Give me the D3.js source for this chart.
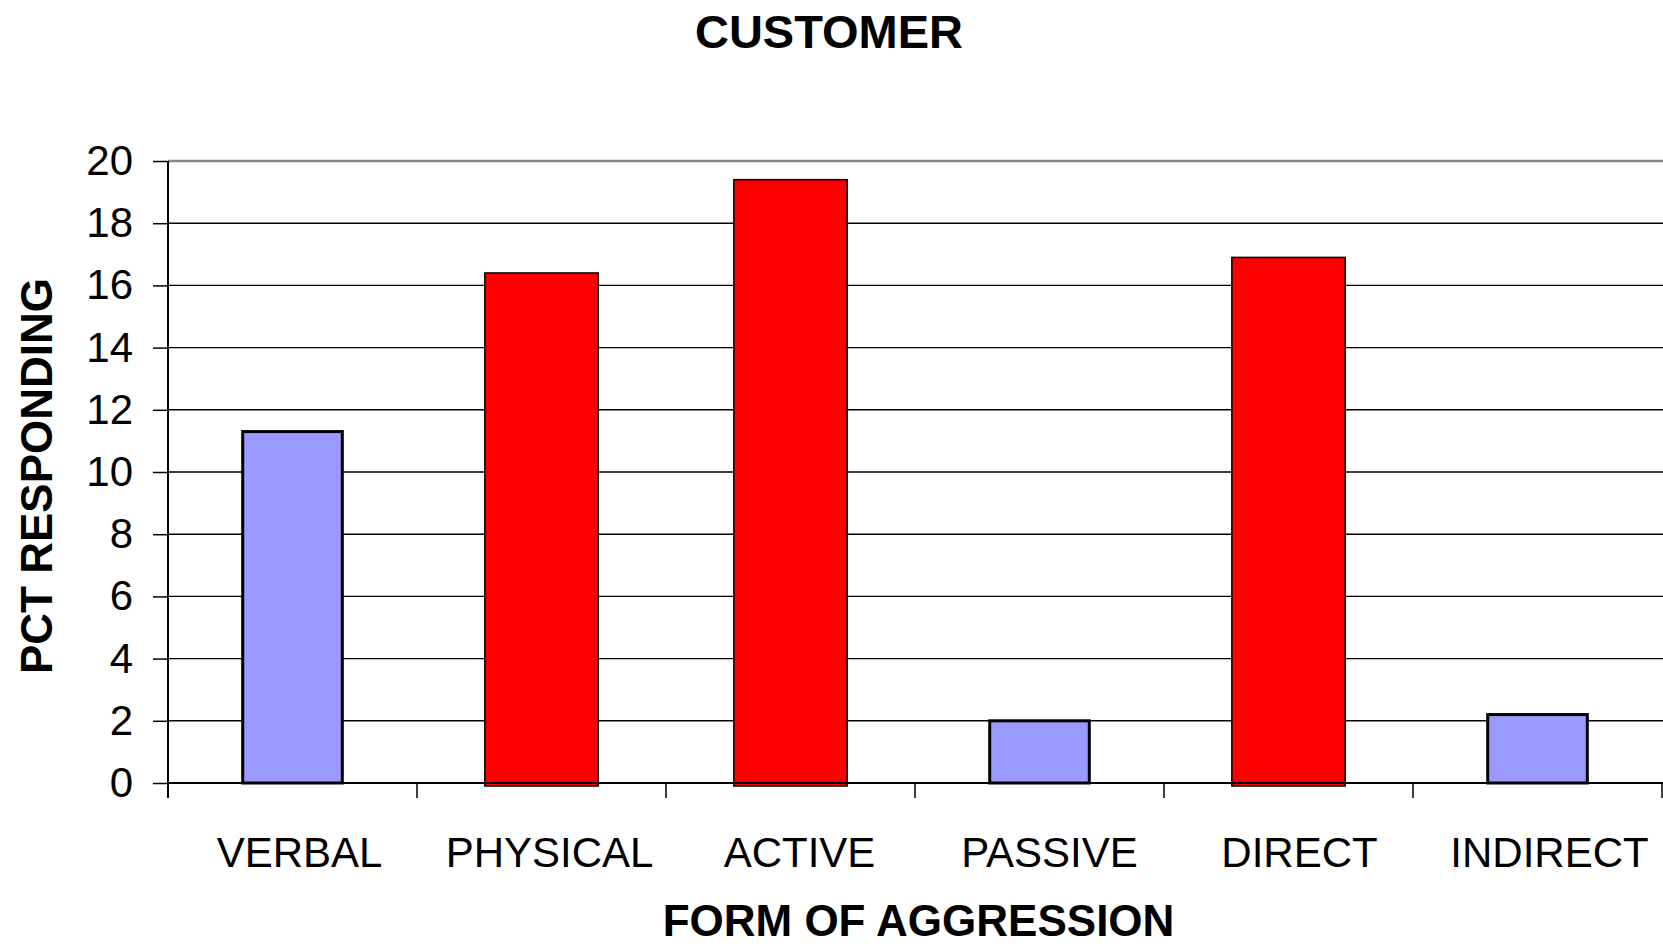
<!DOCTYPE html>
<html>
<head>
<meta charset="utf-8">
<script src="https://cdnjs.cloudflare.com/ajax/libs/d3/7.8.5/d3.min.js"></script>
<style>
  html, body { margin: 0; padding: 0; background: #fff; }
  svg { display: block; font-family: "Liberation Sans", Arial, sans-serif; }
</style>
</head>
<body>
<svg id="chart" width="1663" height="946"></svg>
<script>
// Forms of aggression reported, percent responding
const categories = ["VERBAL", "PHYSICAL", "ACTIVE", "PASSIVE", "DIRECT", "INDIRECT"];
const values = [11.3, 16.4, 19.4, 2.0, 16.9, 2.2];
// which pair each category belongs to: "a" = verbal/passive/indirect, "b" = physical/active/direct
const groups = ["a", "b", "b", "a", "b", "a"];
const yTicks = [0, 2, 4, 6, 8, 10, 12, 14, 16, 18, 20];

const svg = d3.select("#chart");
const W = 1663, H = 946;
const m = { left: 168, right: 1, top: 161, bottom: 163 };

const x = d3.scaleBand().domain(categories).range([m.left, W - m.right]).padding(0);
const y = d3.scaleLinear().domain([0, 20]).range([H - m.bottom, m.top]);

const fill = { a: "#9999ff", b: "#ff0000" };
const widthFrac = { a: 0.40, b: 0.455 };
const strokeW = { a: 3, b: 1.5 };

// horizontal gridlines
svg.append("g")
  .selectAll("line")
  .data(yTicks.filter(t => t > 0 && t < 20))
  .join("line")
  .attr("x1", m.left).attr("x2", W)
  .attr("y1", d => y(d)).attr("y2", d => y(d))
  .attr("stroke", "#000").attr("stroke-width", 1.4);

// top border of plot area
svg.append("line")
  .attr("x1", m.left).attr("x2", W)
  .attr("y1", y(20)).attr("y2", y(20))
  .attr("stroke", "#888").attr("stroke-width", 2.6);

// bars
const data = categories.map((c, i) => ({ c, v: values[i], g: groups[i] }));
svg.append("g")
  .selectAll("rect")
  .data(data)
  .join("rect")
  .attr("x", d => x(d.c) + x.bandwidth() / 2 - x.bandwidth() * widthFrac[d.g] / 2)
  .attr("width", d => x.bandwidth() * widthFrac[d.g])
  .attr("y", d => y(d.v))
  .attr("height", d => y(0) - y(d.v) + (d.g === "b" ? 3 : 0))
  .attr("fill", d => fill[d.g])
  .attr("stroke", "#000")
  .attr("stroke-width", d => strokeW[d.g]);

// y axis
const yAxis = d3.axisLeft(y).tickValues(yTicks).tickSize(15).tickPadding(20).tickFormat(d3.format("d"));
const gy = svg.append("g").attr("transform", `translate(${m.left},0)`).call(yAxis);
gy.select(".domain").remove();
gy.selectAll(".tick line").attr("stroke", "#000").attr("stroke-width", 1.5);
gy.selectAll(".tick text")
  .attr("font-size", 42).attr("fill", "#000")
  .attr("font-family", "Liberation Sans, Arial, sans-serif");

svg.append("line")
  .attr("x1", m.left).attr("x2", m.left)
  .attr("y1", y(20)).attr("y2", y(0) + 15)
  .attr("stroke", "#000").attr("stroke-width", 2);

// x axis line and category ticks
svg.append("line")
  .attr("x1", m.left).attr("x2", W)
  .attr("y1", y(0)).attr("y2", y(0))
  .attr("stroke", "#000").attr("stroke-width", 2);

const bounds = categories.map(c => x(c)).concat([x.range()[1]]);
svg.append("g")
  .selectAll("line")
  .data(bounds)
  .join("line")
  .attr("x1", d => d).attr("x2", d => d)
  .attr("y1", y(0)).attr("y2", y(0) + 15)
  .attr("stroke", "#000").attr("stroke-width", 1.5);

svg.append("g")
  .selectAll("text")
  .data(categories)
  .join("text")
  .attr("x", (d, i) => x(d) + x.bandwidth() / 2 + 7 + i)
  .attr("y", 867)
  .attr("text-anchor", "middle")
  .attr("font-size", 42)
  .attr("fill", "#000")
  .text(d => d);

// titles
svg.append("text")
  .attr("x", 829).attr("y", 48)
  .attr("text-anchor", "middle")
  .attr("font-size", 47).attr("font-weight", "bold")
  .text("CUSTOMER");

svg.append("text")
  .attr("x", (m.left + W) / 2 + 3).attr("y", 936)
  .attr("text-anchor", "middle")
  .attr("font-size", 44).attr("font-weight", "bold")
  .text("FORM OF AGGRESSION");

svg.append("text")
  .attr("transform", `translate(52,${(y(0) + y(20)) / 2 + 4}) rotate(-90)`)
  .attr("text-anchor", "middle")
  .attr("font-size", 44).attr("font-weight", "bold")
  .text("PCT RESPONDING");
</script>
</body>
</html>
